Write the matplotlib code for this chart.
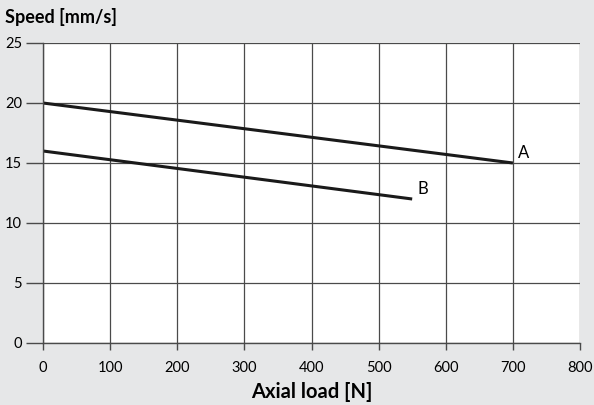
import matplotlib.pyplot as plt

# curve data
load_a = [0, 700]
speed_a = [20, 15]
load_b = [0, 550]
speed_b = [16, 12]

x_ticks = [0, 100, 200, 300, 400, 500, 600, 700, 800]
y_ticks = [0, 5, 10, 15, 20, 25]

bg = '#e6e7e8'
grid_col = '#4a4a4a'

plt.rcParams['font.family'] = ['Lato', 'DejaVu Sans']

fig = plt.figure(figsize=(5.94, 4.05), dpi=100, facecolor=bg)
ax = fig.add_axes([43 / 594, 1 - 343 / 405, (580 - 43) / 594, 300 / 405])
ax.set_facecolor('white')

ax.set_xlim(0, 800)
ax.set_ylim(0, 25)
ax.set_xticks(x_ticks)
ax.set_yticks(y_ticks)
ax.grid(True, color=grid_col, linewidth=0.9)
ax.set_axisbelow(True)

for side in ['top', 'right']:
    ax.spines[side].set_visible(False)
ax.spines['left'].set_color(grid_col)
ax.spines['bottom'].set_color(grid_col)
ax.spines['left'].set_linewidth(1.0)
ax.spines['bottom'].set_linewidth(1.0)

ax.tick_params(axis='y', length=12, width=1.0, color=grid_col, labelsize=10.5, pad=3)
ax.tick_params(axis='x', length=5, width=1.0, color=grid_col, labelsize=10.5, pad=8)

ax.plot(load_a, speed_a, color='#1a1a1a', linewidth=2.2, solid_capstyle='butt')
ax.plot(load_b, speed_b, color='#1a1a1a', linewidth=2.2, solid_capstyle='butt')
ax.text(load_a[-1] + 8, speed_a[-1] + 0.2, 'A', fontsize=12, va='bottom', ha='left')
ax.text(load_b[-1] + 8, speed_b[-1] + 0.2, 'B', fontsize=12, va='bottom', ha='left')

fig.text(5 / 594, 1 - 17 / 405, 'Speed [mm/s]', fontsize=13, fontweight='bold',
         va='center', ha='left')
ax.set_xlabel('Axial load [N]', fontsize=14.5, fontweight='bold', labelpad=5)

fig.savefig('out.png', dpi=100, facecolor=bg)
